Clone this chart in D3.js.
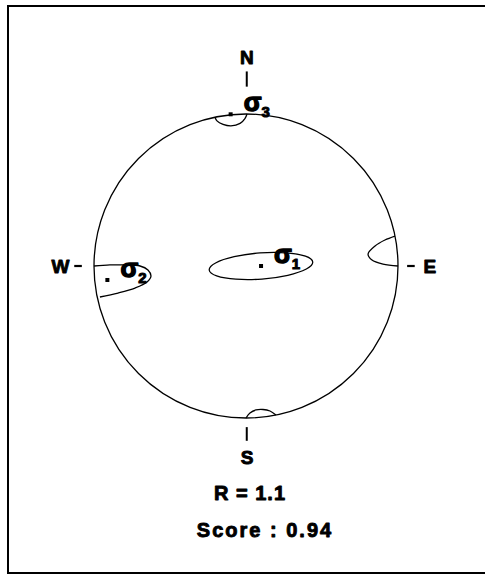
<!DOCTYPE html>
<meta charset="utf-8" />
<script src="https://d3js.org/d3.v7.min.js"></script>
<style>
  html, body { margin: 0; padding: 0; background: #fff; overflow: hidden; }
  svg { display: block; }
  text { font-family: "Liberation Sans", Arial, sans-serif; font-weight: bold; fill: #000;
         stroke: #000; stroke-width: 0.9px; stroke-linejoin: round; }
</style>
<div id="net"></div>
<script>
  // principal stress axes, in net units (x east, y north, primitive radius = 1)
  const axisNames = ["1", "2", "3"];
  const axisX = [0.099, -0.912, -0.101];
  const axisY = [0.0, -0.092, 0.998];

  // confidence regions
  const sigma1Region = [
    [0.439, 0.026], [0.397, -0.02], [0.275, -0.061], [0.105, -0.086],
    [-0.066, -0.087], [-0.193, -0.065], [-0.242, -0.026], [-0.2, 0.02],
    [-0.078, 0.061], [0.092, 0.086], [0.263, 0.087], [0.391, 0.065]
  ];
  const sigma2Region = [
    [-1.0, 0.0], [-0.895, 0.007], [-0.796, 0.007], [-0.697, 0.0],
    [-0.645, -0.026], [-0.625, -0.066], [-0.651, -0.105], [-0.73, -0.145],
    [-0.842, -0.178], [-0.961, -0.204]
  ];
  const sigma2Antipode = [
    [0.98, 0.197], [0.914, 0.171], [0.849, 0.132], [0.803, 0.079],
    [0.829, 0.039], [0.901, 0.013], [1.0, 0.0]
  ];
  const sigma3Region = [
    [-0.204, 0.979], [-0.191, 0.955], [-0.151, 0.932], [-0.099, 0.922],
    [-0.039, 0.938], [-0.007, 0.97], [0.007, 1.0]
  ];
  const sigma3Antipode = [
    [0.0, -1.0], [0.026, -0.967], [0.066, -0.947], [0.112, -0.944],
    [0.158, -0.954], [0.197, -0.98]
  ];

  const compass = ["N", "E", "S", "W"];
  const ratioR = 1.1;
  const score = 0.94;

  const W = 485, H = 575;
  const cx = 246, cy = 266, R = 152;

  const svg = d3.select("#net").append("svg")
    .attr("width", W).attr("height", H);

  // frame: top, left and bottom only
  svg.append("path")
    .attr("d", "M" + W + ",6 H8 V573 H" + W)
    .attr("fill", "none").attr("stroke", "#000").attr("stroke-width", 2);

  const x = d3.scaleLinear().domain([-1, 1]).range([cx - R, cx + R]);
  const y = d3.scaleLinear().domain([-1, 1]).range([cy + R, cy - R]);

  const g = svg.append("g");

  // primitive circle
  g.append("circle")
    .attr("cx", x(0)).attr("cy", y(0)).attr("r", x(1) - x(0))
    .attr("fill", "none").attr("stroke", "#000").attr("stroke-width", 1.3);

  const closedLine = d3.line().x(d => x(d[0])).y(d => y(d[1])).curve(d3.curveCardinalClosed);
  const openLine = d3.line().x(d => x(d[0])).y(d => y(d[1])).curve(d3.curveCatmullRom);

  g.append("path").attr("d", closedLine(sigma1Region));
  [sigma2Region, sigma2Antipode, sigma3Region, sigma3Antipode].forEach(function (reg) {
    g.append("path").attr("d", openLine(reg));
  });
  g.selectAll("path")
    .attr("fill", "none").attr("stroke", "#000").attr("stroke-width", 1.3);

  // compass ticks and letters
  const tickSpan = { N: [1.18, 1.28], E: [1.06, 1.11], S: [1.06, 1.15], W: [1.08, 1.13] };
  const labelPos = { N: [0.005, 1.37], E: [1.21, 0.0], S: [0.007, -1.26], W: [-1.22, 0.0] };
  compass.forEach(function (k) {
    const s = tickSpan[k];
    const vertical = (k === "N" || k === "S");
    const sign = (k === "N" || k === "E") ? 1 : -1;
    if (vertical) {
      g.append("line")
        .attr("x1", x(0.005)).attr("x2", x(0.005))
        .attr("y1", y(sign * s[0])).attr("y2", y(sign * s[1]))
        .attr("stroke", "#000").attr("stroke-width", 2);
    } else {
      g.append("line")
        .attr("x1", x(sign * s[0])).attr("x2", x(sign * s[1]))
        .attr("y1", y(0)).attr("y2", y(0))
        .attr("stroke", "#000").attr("stroke-width", 2.2);
    }
    g.append("text")
      .attr("x", x(labelPos[k][0])).attr("y", y(labelPos[k][1]))
      .attr("text-anchor", "middle").attr("dominant-baseline", "central")
      .style("font-size", "19px")
      .text(k);
  });

  // axis points and sigma labels
  axisNames.forEach(function (n, i) {
    const px = x(axisX[i]), py = y(axisY[i]);
    g.append("rect")
      .attr("x", px - 2).attr("y", py - 2).attr("width", 4).attr("height", 4)
      .attr("fill", "#000");
    const t = g.append("text")
      .attr("x", px + 13).attr("y", py - 3)
      .style("font-size", "26px").style("stroke-width", "1.4px");
    t.append("tspan").text("σ");
    t.append("tspan").attr("dy", 6).style("font-size", "15px").style("stroke-width", "1px").text(n);
  });

  // result text
  svg.append("text")
    .attr("x", 250).attr("y", 500)
    .attr("text-anchor", "middle")
    .style("font-size", "20px").style("letter-spacing", "1px")
    .text("R = " + ratioR.toFixed(1));
  svg.append("text")
    .attr("x", 265).attr("y", 537)
    .attr("text-anchor", "middle")
    .style("font-size", "20px").style("letter-spacing", "2px")
    .text("Score : " + score.toFixed(2));
</script>
